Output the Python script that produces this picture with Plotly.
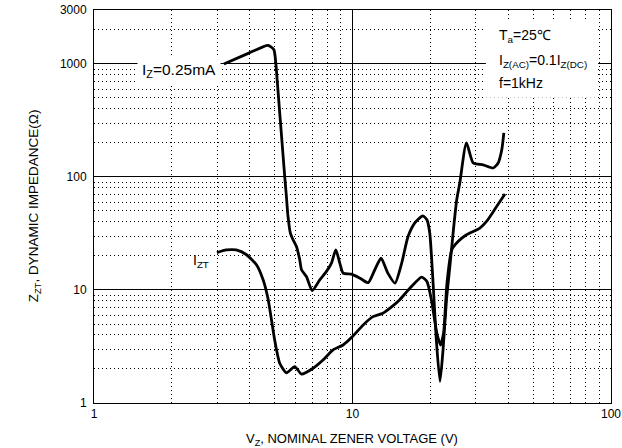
import plotly.graph_objects as go

# ---- data ----
v_low_current = [3.18, 3.93, 4.71, 4.96, 5.05, 5.11, 5.23, 5.36, 5.47, 5.55, 5.63, 5.75, 5.89,
                 6.07, 6.25, 6.35, 6.64, 6.98, 7.47, 7.93, 8.29, 8.62, 8.93, 9.2, 9.91, 10.7,
                 11.5, 12.2, 12.9, 13.7, 14.6, 15.5, 16.4, 17.4, 18.7, 19.4, 19.9, 20.5, 21.1,
                 21.8, 22.4, 23.1, 23.8, 24.5, 25.3, 26.0, 27.6, 29.3, 32.0, 35.0, 36.6, 37.8, 38.5]
z_low_current = [1000, 1233, 1462, 1339, 1020, 728, 368, 180, 99.8, 67.2, 44.7, 31.8, 27.8,
                 24.2, 18.5, 15.1, 13.1, 9.88, 12.3, 14.6, 17.3, 22.6, 17.3, 14.1, 13.8, 12.7,
                 11.6, 15.1, 19.1, 14.1, 11.5, 17.3, 29.7, 39.1, 45.3, 41.8, 31.9, 11.5, 3.61,
                 1.55, 2.95, 8.2, 16.1, 31.9, 62.8, 88.3, 200, 133, 128, 120, 133, 174, 245]

v_izt = [2.99, 3.25, 3.55, 3.89, 4.25, 4.51, 4.71, 4.86, 5.0, 5.23, 5.55, 5.98, 6.35, 7.04,
         7.69, 8.41, 9.2, 10.0, 11.0, 12.0, 13.1, 14.2, 15.2, 16.7, 18.5, 19.4, 20.2, 21.2,
         21.9, 22.5, 23.2, 24.2, 25.6, 27.6, 31.1, 33.0, 36.1, 38.9]
z_izt = [21.4, 22.6, 22.6, 20.5, 16.7, 12.3, 8.4, 5.43, 3.61, 2.25, 1.85, 2.10, 1.80, 2.03,
         2.40, 2.95, 3.26, 3.87, 4.91, 5.81, 6.23, 7.13, 8.17, 10.4, 13.0, 11.9, 8.17, 4.14,
         3.26, 4.14, 11.5, 22.6, 26.8, 30.8, 35.3, 40.4, 54.8, 70.6]

x_tick_vals = [1, 10, 100]
x_tick_text = ["1", "10", "100"]
x_minor_vals = [2, 3, 4, 5, 6, 7, 8, 9, 20, 30, 40, 50, 60, 70, 80, 90]
y_tick_vals = [1, 10, 100, 1000, 3000]
y_tick_text = ["1", "10", "100", "1000", "3000"]
y_minor_vals = [2, 3, 4, 5, 6, 7, 8, 9, 20, 30, 40, 50, 60, 70, 80, 90,
                200, 300, 400, 500, 600, 700, 800, 900, 2000]

FONT = "Liberation Sans, Arial, sans-serif"

fig = go.Figure()
fig.add_trace(go.Scatter(x=v_low_current, y=z_low_current, mode="lines",
                         line=dict(color="black", width=2.8, shape="spline", smoothing=0.6),
                         hoverinfo="skip", showlegend=False))
fig.add_trace(go.Scatter(x=v_izt, y=z_izt, mode="lines",
                         line=dict(color="black", width=2.8, shape="spline", smoothing=0.6),
                         hoverinfo="skip", showlegend=False))

axis_common = dict(
    type="log", showline=True, linecolor="black", linewidth=1, mirror=True,
    showgrid=True, gridcolor="black", gridwidth=1, ticks="", zeroline=False,
    automargin=False,
    tickfont=dict(family=FONT, size=12, color="black"),
)
fig.update_xaxes(range=[0, 2], tickmode="array", tickvals=x_tick_vals, ticktext=x_tick_text,
                 minor=dict(tickmode="array", tickvals=x_minor_vals, showgrid=True,
                            gridcolor="black", gridwidth=1, griddash="1px,3px", ticks=""),
                 **axis_common)
fig.update_yaxes(range=[0, 3.4771], tickmode="array", tickvals=y_tick_vals, ticktext=y_tick_text,
                 minor=dict(tickmode="array", tickvals=y_minor_vals, showgrid=True,
                            gridcolor="black", gridwidth=1, griddash="1px,3px", ticks=""),
                 ticklabelstandoff=4, **axis_common)

# white box behind the conditions text
fig.add_shape(type="rect", xref="paper", yref="paper", x0=0.758, x1=0.975, y0=0.777, y1=0.976,
              fillcolor="white", line=dict(width=0), layer="above")

txt = dict(family=FONT, size=14, color="black")
fig.add_annotation(xref="paper", yref="paper", x=0.779, y=0.935, xanchor="left", yanchor="middle",
                   text="T<sub>a</sub>=25\u2103", showarrow=False, font=txt)
fig.add_annotation(xref="paper", yref="paper", x=0.779, y=0.869, xanchor="left", yanchor="middle",
                   text="I<sub>Z(AC)</sub>=0.1I<sub>Z(DC)</sub>", showarrow=False, font=txt)
fig.add_annotation(xref="paper", yref="paper", x=0.779, y=0.813, xanchor="left", yanchor="middle",
                   text="f=1kHz", showarrow=False, font=txt)
fig.add_annotation(xref="paper", yref="paper", x=0.165, y=0.845, xanchor="center", yanchor="middle",
                   text="I<sub>Z</sub>=0.25mA", showarrow=False,
                   font=dict(family=FONT, size=15.5, color="black"),
                   bgcolor="white", borderpad=4)
fig.add_annotation(xref="paper", yref="paper", x=0.187, y=0.362, xanchor="left", yanchor="middle",
                   text="I<sub>ZT</sub>", showarrow=False, font=txt)

# axis titles
fig.add_annotation(xref="paper", yref="paper", x=0.4985, y=-0.0917, xanchor="center", yanchor="middle",
                   text="V<sub>Z</sub>, NOMINAL ZENER VOLTAGE (V)", showarrow=False,
                   font=dict(family=FONT, size=13, color="black"))
fig.add_annotation(xref="paper", yref="paper", x=-0.115, y=0.502, xanchor="center", yanchor="middle",
                   text="Z<sub>ZT</sub>, DYNAMIC IMPEDANCE(\u03a9)", showarrow=False, textangle=-90,
                   font=dict(family=FONT, size=13.5, color="black"))

fig.update_layout(
    width=622, height=448,
    margin=dict(l=94, r=11, t=10, b=45),
    paper_bgcolor="white", plot_bgcolor="white",
    showlegend=False,
)

fig.write_html("out.html", config={"displayModeBar": False},
               post_script="document.body.style.margin='0';document.body.style.overflow='hidden';")
